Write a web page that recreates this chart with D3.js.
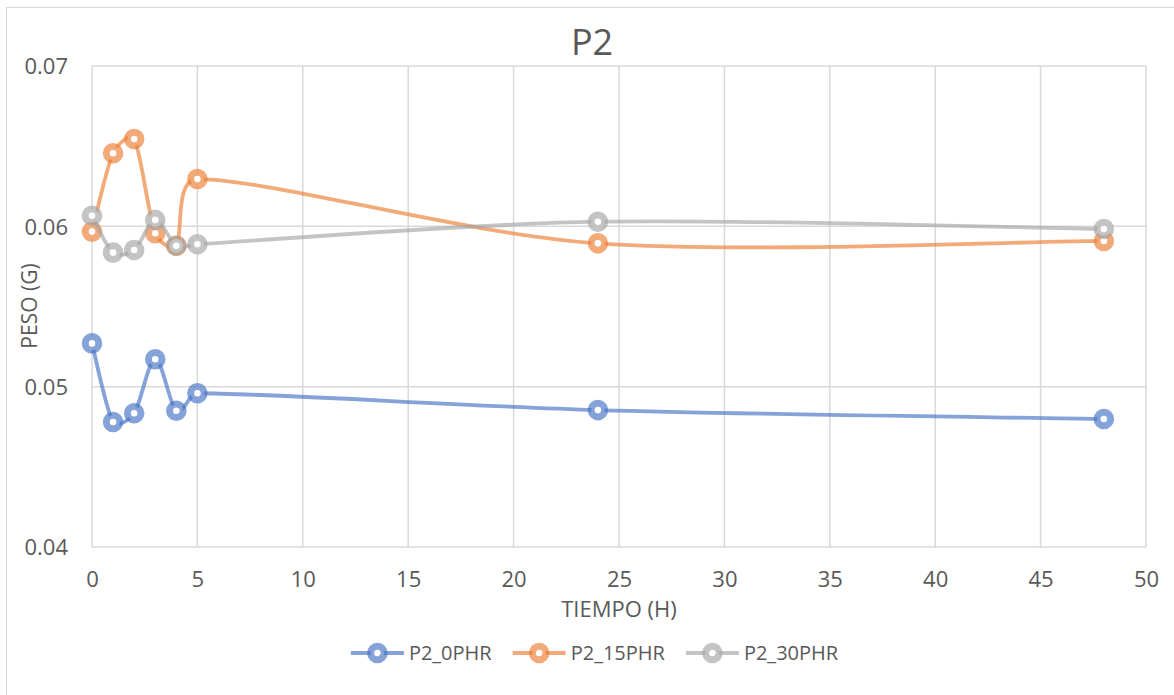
<!DOCTYPE html>
<html>
<head>
<meta charset="utf-8">
<script src="https://cdn.jsdelivr.net/npm/d3@7"></script>
<style>
  html, body { margin: 0; padding: 0; background: #fff; }
  svg { display: block; font-family: "Open Sans", "Noto Sans", sans-serif; }
</style>
</head>
<body>
<svg id="chart" width="1174" height="695"></svg>
<script>
// ---- data ----
const times = [0, 1, 2, 3, 4, 5, 24, 48];
const seriesNames = ["P2_0PHR", "P2_15PHR", "P2_30PHR"];
const p2_0phr  = [0.0527, 0.0478, 0.04834, 0.05171, 0.0485, 0.04959, 0.04854, 0.04798];
const p2_15phr = [0.05967, 0.06456, 0.06545, 0.05957, 0.05879, 0.06295, 0.05894, 0.05909];
const p2_30phr = [0.06066, 0.05836, 0.05852, 0.0604, 0.05879, 0.05888, 0.06029, 0.05983];
const xTicks = [0, 5, 10, 15, 20, 25, 30, 35, 40, 45, 50];
const yTicks = [0.04, 0.05, 0.06, 0.07];
const chartTitle = "P2";
const xTitle = "TIEMPO (H)";
const yTitle = "PESO (G)";

const colors = ["#4472C4", "#ED7D31", "#A5A5A5"];
const seriesValues = [p2_0phr, p2_15phr, p2_30phr];

const svg = d3.select("#chart");
const textColor = "#595959";
const gridColor = "#d9d9d9";

// outer frame
svg.append("rect").attr("x", 6.5).attr("y", 7.5).attr("width", 1300).attr("height", 900)
  .attr("fill", "#fff").attr("stroke", "#d9d9d9").attr("stroke-width", 1);

const x = d3.scaleLinear().domain([0, 50]).range([92, 1146]);
const y = d3.scaleLinear().domain([0.04, 0.07]).range([547, 66]);

// gridlines
svg.append("g").selectAll("line").data(xTicks).join("line")
  .attr("x1", d => x(d)).attr("x2", d => x(d))
  .attr("y1", y(0.07)).attr("y2", y(0.04))
  .attr("stroke", gridColor).attr("stroke-width", 1.5);
svg.append("g").selectAll("line").data(yTicks).join("line")
  .attr("x1", x(0)).attr("x2", x(50))
  .attr("y1", d => y(d)).attr("y2", d => y(d))
  .attr("stroke", gridColor).attr("stroke-width", 1.5);

// axes labels
const xAxis = d3.axisBottom(x).tickValues(xTicks).tickSize(0).tickPadding(0).tickFormat(d3.format("d"));
const gx = svg.append("g").attr("transform", `translate(0,${y(0.04)})`).call(xAxis);
gx.select(".domain").remove();
gx.selectAll("text").attr("dy", null).attr("y", 40).attr("fill", textColor)
  .style("font-size", "22px").style("font-family", "Open Sans");

const yAxis = d3.axisLeft(y).tickValues(yTicks).tickSize(0).tickPadding(0).tickFormat(d3.format(".2f"));
const gy = svg.append("g").attr("transform", `translate(${x(0)},0)`).call(yAxis);
gy.select(".domain").remove();
gy.selectAll("text").attr("x", -24).attr("dy", "0.35em").attr("fill", textColor)
  .style("font-size", "22px").style("font-family", "Open Sans");

// title
svg.append("text").attr("x", 592).attr("y", 55).attr("text-anchor", "middle")
  .attr("fill", textColor).style("font-size", "36px").text(chartTitle);

// axis titles
svg.append("text").attr("x", 619).attr("y", 617).attr("text-anchor", "middle")
  .attr("fill", textColor).style("font-size", "22px").text(xTitle);
svg.append("text").attr("transform", "translate(37,306) rotate(-90)").attr("text-anchor", "middle")
  .attr("fill", textColor).style("font-size", "21px").text(yTitle);

// smoothed line (Excel-like: Catmull-Rom tangents, limited by segment length)
function smoothPath(pts) {
  const p = d3.path();
  const n = pts.length;
  const tan = pts.map((pt, i) => {
    const a = pts[Math.max(0, i - 1)], b = pts[Math.min(n - 1, i + 1)];
    return [(b[0] - a[0]) / 6, (b[1] - a[1]) / 6];
  });
  const clip = (t, lim) => {
    const len = Math.hypot(t[0], t[1]);
    const s = len > lim && len > 0 ? lim / len : 1;
    return [t[0] * s, t[1] * s];
  };
  p.moveTo(pts[0][0], pts[0][1]);
  for (let i = 0; i < n - 1; i++) {
    const a = pts[i], b = pts[i + 1];
    const seg = Math.hypot(b[0] - a[0], b[1] - a[1]);
    const t1 = clip(tan[i], seg / 3), t2 = clip(tan[i + 1], seg / 3);
    p.bezierCurveTo(a[0] + t1[0], a[1] + t1[1], b[0] - t2[0], b[1] - t2[1], b[0], b[1]);
  }
  return p.toString();
}

const opacity = 0.65;
const mr = 6.8, msw = 7;
seriesValues.forEach((vals, si) => {
  const g = svg.append("g");
  const pts = vals.map((v, i) => [x(times[i]), y(v)]);
  g.append("path").attr("d", smoothPath(pts)).attr("fill", "none")
    .attr("stroke", colors[si]).attr("stroke-width", 3.8).attr("stroke-opacity", opacity);
  g.selectAll("circle").data(vals).join("circle")
    .attr("cx", (d, i) => x(times[i])).attr("cy", d => y(d)).attr("r", mr)
    .attr("fill", "#fff").attr("stroke", colors[si]).attr("stroke-width", msw).attr("stroke-opacity", opacity);
});

// legend
const legend = svg.append("g");
let cursor = 0;
seriesNames.forEach((name, i) => {
  const it = legend.append("g");
  it.append("line").attr("x1", 0).attr("x2", 53).attr("y1", 0).attr("y2", 0)
    .attr("stroke", colors[i]).attr("stroke-width", 3.8).attr("stroke-opacity", opacity);
  it.append("circle").attr("cx", 26.5).attr("cy", 0).attr("r", mr).attr("fill", "#fff")
    .attr("stroke", colors[i]).attr("stroke-width", msw).attr("stroke-opacity", opacity);
  const t = it.append("text").attr("x", 58).attr("dy", "0.35em").attr("fill", textColor)
    .style("font-size", "20px").text(name);
  const w = 58 + t.node().getComputedTextLength();
  it.attr("transform", `translate(${cursor},0)`);
  cursor += w + 21;
});
const total = cursor - 21;
legend.attr("transform", `translate(${594.5 - total / 2},653)`);
</script>
</body>
</html>
